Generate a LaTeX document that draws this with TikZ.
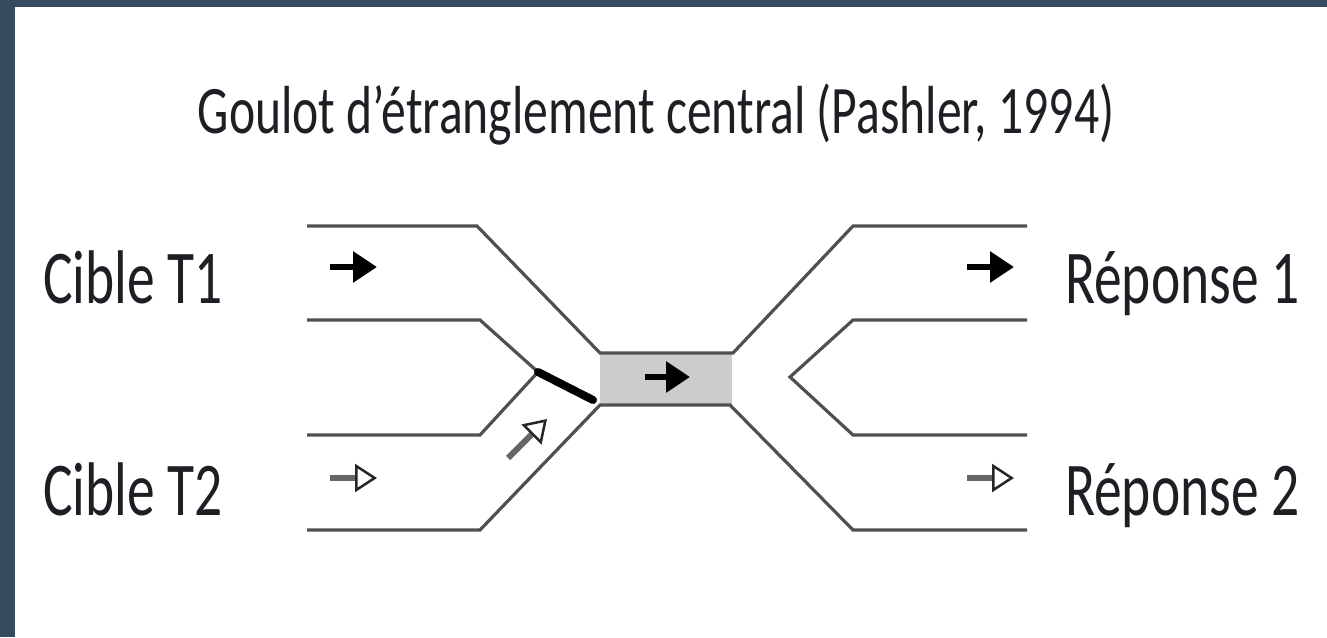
\documentclass[tikz,border=0pt]{standalone}
\usepackage{fontspec}
\setmainfont{Carlito}
\usetikzlibrary{arrows.meta}
\definecolor{frame}{RGB}{54,76,94}
\definecolor{channel}{RGB}{80,80,80}
\definecolor{boxfill}{RGB}{204,204,204}
\definecolor{ink}{RGB}{30,30,36}
\tikzset{
  wall/.style={draw=channel, line width=3.2pt, line join=miter},
  gate/.style={draw=black, line width=8pt, line cap=round},
  fullarrow/.style={draw=black, line width=6.5pt,
    -{Triangle[length=24pt 0,width=30pt 0]}},
  openarrow/.style={draw=black!60, line width=6pt,
    -{Triangle[open,length=22pt 0,width=28pt 0,line width=2.5pt,color=black!85,fill=white]}},
  titletext/.style={font=\fontsize{68}{80}\selectfont, text=ink, xscale=0.73, inner sep=0pt},
  labeltext/.style={font=\fontsize{76}{90}\selectfont, text=ink, xscale=0.73, inner sep=0pt, anchor=base west},
}
\begin{document}
\begin{tikzpicture}[x=1pt,y=-1pt]
  \useasboundingbox (0,0) rectangle (1327,637);
  % frame bands
  \fill[frame] (0,0) rectangle (1327,7);
  \fill[frame] (0,0) rectangle (15,637);

  % central bottleneck box
  \fill[boxfill] (600,353) rectangle (732,405);

  % channel corners
  \coordinate (a1) at (307,226); \coordinate (a2) at (477,226);
  \coordinate (a3) at (600,353); \coordinate (a4) at (733,353);
  \coordinate (a5) at (853,226); \coordinate (a6) at (1027,226);
  \coordinate (b1) at (307,530); \coordinate (b2) at (480,530);
  \coordinate (b3) at (600,405); \coordinate (b4) at (730,405);
  \coordinate (b5) at (853,530); \coordinate (b6) at (1027,530);
  \coordinate (m1) at (307,320); \coordinate (m2) at (480,320);
  \coordinate (mj) at (538,372);
  \coordinate (m3) at (480,435); \coordinate (m4) at (307,435);
  \coordinate (gend) at (593,400);
  \coordinate (r1) at (1027,320); \coordinate (r2) at (853,320);
  \coordinate (rj) at (790,377);
  \coordinate (r3) at (853,435); \coordinate (r4) at (1027,435);

  % channel walls
  \draw[wall] (a1) -- (a2) -- (a3) -- (a4) -- (a5) -- (a6);
  \draw[wall] (b1) -- (b2) -- (b3) -- (b4) -- (b5) -- (b6);
  \draw[wall] (m1) -- (m2) -- (mj) -- (m3) -- (m4);
  \draw[wall] (r1) -- (r2) -- (rj) -- (r3) -- (r4);
  \draw[gate] (mj) -- (gend);

  % task arrows
  \coordinate (t1s) at (330,267); \coordinate (t1e) at (377,267);
  \coordinate (t2s) at (330,478); \coordinate (t2e) at (377,478);
  \coordinate (ds) at (508,458);  \coordinate (de) at (547,419);
  \coordinate (cs) at (645,377);  \coordinate (ce) at (690,377);
  \coordinate (r1s) at (967,267); \coordinate (r1e) at (1014,267);
  \coordinate (r2s) at (967,478); \coordinate (r2e) at (1014,478);
  \draw[fullarrow] (t1s) -- (t1e);
  \draw[fullarrow] (cs) -- (ce);
  \draw[fullarrow] (r1s) -- (r1e);
  \draw[openarrow] (t2s) -- (t2e);
  \draw[openarrow] (ds) -- (de);
  \draw[openarrow] (r2s) -- (r2e);

  % texts
  \node[titletext, anchor=base] (title) at (656,133) {Goulot d’étranglement central (Pashler, 1994)};
  \node[labeltext] (cible1) at (43,303) {Cible T1};
  \node[labeltext] (cible2) at (43,515) {Cible T2};
  \node[labeltext] (rep1) at (1065,303) {Réponse 1};
  \node[labeltext] (rep2) at (1065,515) {Réponse 2};
\end{tikzpicture}
\end{document}
